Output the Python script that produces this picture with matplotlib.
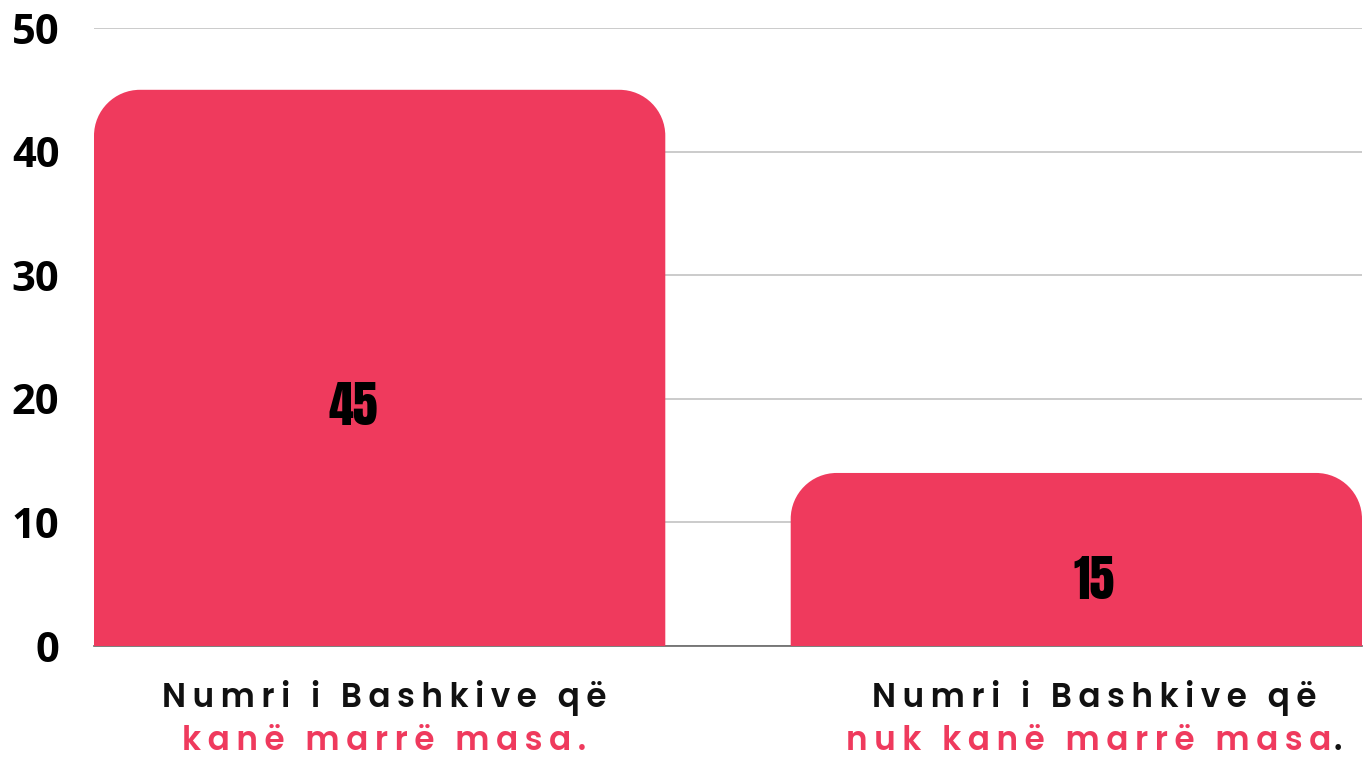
import matplotlib
matplotlib.use("Agg")
import matplotlib.pyplot as plt
from matplotlib.patches import PathPatch
from matplotlib.path import Path

# ---- data ----
x_pos = [0, 1]
values = [45, 14]
value_labels = ["45", "15"]
line1 = ["Numri i Bashkive që", "Numri i Bashkive që"]
line2_pink = ["kanë marrë masa.", "nuk kanë marrë masa"]
line2_black = ["", "."]
yticks = [0, 10, 20, 30, 40, 50]

# ---- style / layout ----
PINK = "#EF3A5D"
W, H = 1371, 760
fig = plt.figure(figsize=(W / 100, H / 100), dpi=100)
ax = fig.add_axes([94 / W, 114 / H, 1268 / W, 618 / H])
ax.set_xlim(-0.41, 1.41)
ax.set_ylim(0, 50)

px_x = 1268 / 1.82
px_y = 618 / 50
r_px = 46
rx = r_px / px_x
ry = r_px / px_y
K = 0.5523

bars = ax.bar(x_pos, values, width=0.82, color=PINK, zorder=2)
for b in bars:
    x0, w, h = b.get_x(), b.get_width(), b.get_height()
    x1 = x0 + w
    b.set_visible(False)
    verts = [(x0, 0), (x0, h - ry),
             (x0, h - ry + K * ry), (x0 + rx - K * rx, h), (x0 + rx, h),
             (x1 - rx, h),
             (x1 - rx + K * rx, h), (x1, h - ry + K * ry), (x1, h - ry),
             (x1, 0), (x0, 0)]
    codes = [Path.MOVETO, Path.LINETO,
             Path.CURVE4, Path.CURVE4, Path.CURVE4,
             Path.LINETO,
             Path.CURVE4, Path.CURVE4, Path.CURVE4,
             Path.LINETO, Path.CLOSEPOLY]
    ax.add_patch(PathPatch(Path(verts, codes), facecolor=PINK,
                           edgecolor="none", zorder=2))

VAL_FONT = ["Anton", "Oswald", "Bebas Neue", "Barlow Condensed", "DejaVu Sans"]
label_frac = [0.43, 0.38]
label_dx = [-0.038, 0.025]
for xi, v, lab, fr, dx in zip(x_pos, values, value_labels, label_frac, label_dx):
    ax.text(xi + dx, v * fr, lab, ha="center", va="center",
            family=VAL_FONT, weight="heavy", fontsize=36,
            color="black", zorder=3)

ax.set_yticks(yticks)
ax.set_yticklabels([str(t) for t in yticks], family=["Open Sans", "DejaVu Sans"],
                   weight="bold", fontsize=30)
ax.tick_params(axis="y", length=0, pad=25)
ax.set_xticks([])
ax.yaxis.grid(True, color="#bdbdbd", linewidth=1.1, zorder=0)
ax.set_axisbelow(True)
for s in ["top", "right", "left"]:
    ax.spines[s].set_visible(False)
ax.spines["bottom"].set_color("#666666")
ax.spines["bottom"].set_linewidth(1.2)
ax.spines["bottom"].set_zorder(1)

SP = "\u2009"
def track(s):
    return SP.join(s)

cat_dx = [0.006, 0.025]
cat_font = dict(family=["Poppins", "DejaVu Sans"], weight=600, fontsize=23.5)
for xi, l1, l2p, l2b, dx in zip(x_pos, line1, line2_pink, line2_black, cat_dx):
    ax.annotate(track(l1), xy=(xi + dx, 0), xycoords=("data", "axes fraction"),
                xytext=(0, -52), textcoords="offset pixels",
                ha="center", va="center", color="#111111", **cat_font)
    t2 = ax.annotate(track(l2p), xy=(xi + dx - (0.008 if l2b else 0), 0),
                     xycoords=("data", "axes fraction"),
                     xytext=(0, -96), textcoords="offset pixels",
                     ha="center", va="center", color=PINK, **cat_font)
    if l2b:
        ax.annotate(l2b, xy=(1, 0), xycoords=t2, xytext=(3, 0),
                    textcoords="offset pixels", ha="left", va="bottom",
                    color="#111111", **cat_font)

fig.savefig("out.png", dpi=100)
